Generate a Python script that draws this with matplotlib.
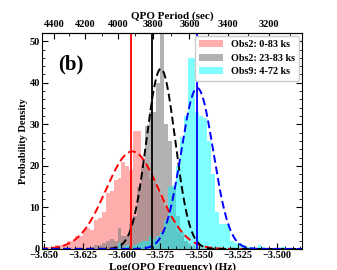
import numpy as np
import matplotlib
matplotlib.use('Agg')
import matplotlib.pyplot as plt
from matplotlib.ticker import MultipleLocator

plt.rcParams['font.family'] = ['Liberation Serif', 'DejaVu Serif']
plt.rcParams['font.weight'] = 'bold'
plt.rcParams['axes.labelweight'] = 'bold'

# histogram bins (log QPO frequency)
bin_start = -3.650
bin_width = 0.0025

obs2_full = [0.5, 0.5, 0.5, 1, 1, 1, 2, 2, 3, 3,
             4.5, 5, 4.5, 7, 7.5, 9, 13.5, 14, 16.5, 17,
             21, 20, 19, 28.5, 28.5, 22, 20, 17, 16, 14,
             12, 10, 8, 6, 4, 3, 2, 1.5, 1, 0.5,
             0.5, 0.3]
obs2_late = [0, 0, 0, 0, 0, 0, 0, 0, 0, 0,
             0, 0, 0.5, 1, 1, 1.5, 2, 2.5, 2, 5,
             3, 3, 6, 8, 15, 20, 29.5, 33, 33, 40,
             55, 30, 26, 15, 8, 4, 2, 1, 0.5]
obs9 = [0, 0, 0, 0, 0, 0, 0, 0, 0, 0,
        0, 0, 0, 0, 0, 0, 0, 0, 0, 1.5,
        0.5, 1, 0.5, 1, 1.5, 2, 2, 3, 2.5, 3,
        4, 7, 15, 15.5, 20, 27, 32, 46, 46, 33,
        32, 31.5, 26, 18, 9, 6, 6, 6, 2, 1.5,
        1.5, 1, 0.5, 0.5, 0.3, 1, 0.5, 0.3, 0, 0,
        0, 0.5]

labels = ['Obs2: 0-83 ks', 'Obs2: 23-83 ks', 'Obs9: 4-72 ks']

# gaussian fits (mean, sigma) and median lines
fit_mu = [-3.593, -3.5747, -3.5513]
fit_sigma = [0.0170, 0.0092, 0.0103]
median_line = [-3.594, -3.5805, -3.5515]

fig = plt.figure(figsize=(3.37, 2.70), dpi=100)
ax = fig.add_axes([0.125, 0.078, 0.771, 0.80])

fills = [('red', 0.32), ('gray', 0.6), ('cyan', 0.5)]
for vals, (c, a), lab in zip([obs2_full, obs2_late, obs9], fills, labels):
    edges = bin_start + bin_width * np.arange(len(vals) + 1)
    ax.stairs(vals, edges, fill=True, color=c, alpha=a, label=lab, lw=0)

x = np.linspace(-3.66, -3.48, 600)
for mu, sg, c in zip(fit_mu, fit_sigma, ['red', 'black', 'blue']):
    y = np.exp(-0.5 * ((x - mu) / sg) ** 2) / (sg * np.sqrt(2 * np.pi))
    ax.plot(x, y, ls='--', color=c, lw=1.4, dashes=(4, 2))

for m, c in zip(median_line, ['red', 'black', 'blue']):
    ax.axvline(m, color=c, lw=1.3)

ax.set_xlim(-3.651, -3.484)
ax.set_ylim(0, 52)
ax.xaxis.set_major_locator(MultipleLocator(0.025))
ax.xaxis.set_minor_locator(MultipleLocator(0.005))
ax.yaxis.set_major_locator(MultipleLocator(10))
ax.yaxis.set_minor_locator(MultipleLocator(2))
ax.tick_params(which='both', direction='in', right=True, labelsize=7.5, pad=1.5)
ax.tick_params(which='major', length=4)
ax.tick_params(which='minor', length=2)
ax.tick_params(axis='x', which='both', top=False)
ax.xaxis.set_major_formatter(plt.FuncFormatter(lambda v, p: f'{v:.3f}'.replace('-', '\u2212')))

ax.set_xlabel('Log(QPO Frequency) (Hz)', fontsize=8, labelpad=2)
ax.set_ylabel('Probability Density', fontsize=7.5, labelpad=1)

sec = ax.secondary_xaxis('top', functions=(lambda v: 10 ** (-v), lambda p: -np.log10(p)))
sec.set_xticks([4400, 4200, 4000, 3800, 3600, 3400, 3200])
sec.xaxis.set_minor_locator(MultipleLocator(100))
sec.tick_params(which='both', direction='in', labelsize=7.5, pad=3)
sec.tick_params(which='major', length=4)
sec.tick_params(which='minor', length=2)
sec.set_xlabel('QPO Period (sec)', fontsize=8, labelpad=1)

ax.text(0.06, 0.83, '(b)', transform=ax.transAxes, fontsize=15, fontweight='bold')

ax.legend(loc='upper right', fontsize=7.3, frameon=True, handlelength=2.3,
          borderaxespad=0.3, labelspacing=0.45, framealpha=1)

fig.savefig('out.png', dpi=100)
